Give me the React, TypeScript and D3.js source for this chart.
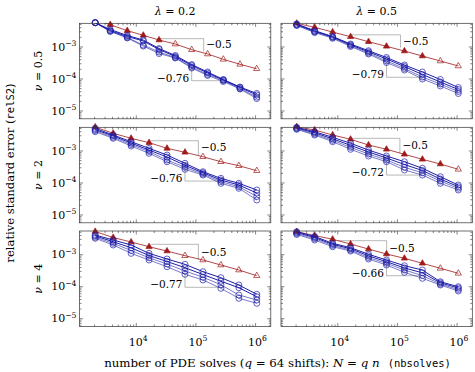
import React from "react";
import * as d3 from "d3";

// N = q n solves, q = 64 shifts
const nbsolves = [2048, 4096, 8192, 16384, 32768, 65536, 131072, 262144, 524288, 1048576];
const nbsolvesTopLeft = [2050, 3660, 7060, 13100, 24100, 45100, 84900, 157000, 288000, 548000, 1044000];

const lambdaLabels = ["0.2", "0.5"];
const nuLabels = ["0.5", "2", "4"];
const refLabel = "−0.5";
const fitLabels = ["−0.76", "−0.79", "−0.76", "−0.72", "−0.77", "−0.66"];
const xTicks = [1e4, 1e5, 1e6];
const yTicks = [1e-5, 1e-4, 1e-3];
const xDomain = [1117, 1.8e6];
const yDomain = [5.7e-6, 5.5e-3];

// nu = 0.5, lambda = 0.2
const red11 = [7.12e-3, 4.97e-3, 3.23e-3, 2.32e-3, 1.65e-3, 1.24e-3, 8.22e-4, 6.04e-4, 4.12e-4, 2.88e-4, 2.09e-4];
const blue11 = [
  [5.74e-3, 3.52e-3, 2.29e-3, 1.65e-3, 8.96e-4, 5.42e-4, 2.83e-4, 1.65e-4, 9.64e-5, 5.61e-5, 3.52e-5],
  [5.74e-3, 3.27e-3, 2.13e-3, 1.54e-3, 8.34e-4, 5.04e-4, 2.64e-4, 1.54e-4, 9.29e-5, 5.42e-5, 3.16e-5],
  [5.74e-3, 3.16e-3, 1.98e-3, 1.15e-3, 6.97e-4, 4.69e-4, 2.37e-4, 1.38e-4, 8.96e-5, 5.04e-5, 2.73e-5],
  [5.74e-3, 3.05e-3, 1.91e-3, 1.07e-3, 6.25e-4, 4.53e-4, 2.2e-4, 1.29e-4, 8.34e-5, 4.86e-5, 2.45e-5],
];
// nu = 0.5, lambda = 0.5
const red12 = [5.5e-3, 4.12e-3, 2.94e-3, 2.09e-3, 1.46e-3, 1.05e-3, 7.48e-4, 5.22e-4, 3.65e-4, 2.55e-4];
const blue12 = [
  [5.23e-3, 3.23e-3, 2.13e-3, 1.24e-3, 7.66e-4, 4.69e-4, 2.73e-4, 1.65e-4, 9.64e-5, 5.42e-5],
  [5.04e-3, 3.09e-3, 2.05e-3, 1.17e-3, 7.06e-4, 4.21e-4, 2.45e-4, 1.38e-4, 8.05e-5, 4.69e-5],
  [4.86e-3, 2.98e-3, 1.98e-3, 1.11e-3, 6.48e-4, 3.65e-4, 2.13e-4, 1.15e-4, 6.97e-5, 4.06e-5],
  [4.69e-3, 2.83e-3, 1.87e-3, 1.04e-3, 6.04e-4, 3.27e-4, 1.91e-4, 9.98e-5, 6.04e-5, 3.52e-5],
];
// nu = 2, lambda = 0.2
const red21 = [5.6e-3, 3.57e-3, 2.49e-3, 1.82e-3, 1.21e-3, 9.1e-4, 6.62e-4, 4.62e-4, 3.47e-4, 2.42e-4];
const blue21 = [
  [5.11e-3, 3.16e-3, 1.95e-3, 1.21e-3, 7.48e-4, 4.12e-4, 2.25e-4, 1.4e-4, 9.77e-5, 6.04e-5],
  [4.69e-3, 2.94e-3, 1.77e-3, 1.07e-3, 6.48e-4, 3.57e-4, 2.08e-4, 1.24e-4, 8.65e-5, 4.86e-5],
  [4.37e-3, 2.68e-3, 1.59e-3, 9.64e-4, 5.22e-4, 3.09e-4, 1.91e-4, 1.1e-4, 7.66e-5, 3.78e-5],
  [4.0e-3, 2.49e-3, 1.43e-3, 8.46e-4, 4.62e-4, 2.68e-4, 1.77e-4, 9.77e-5, 6.83e-5, 2.94e-5],
];
// nu = 2, lambda = 0.5
const red22 = [5.7e-3, 4.53e-3, 3.16e-3, 2.32e-3, 1.54e-3, 1.13e-3, 7.87e-4, 5.5e-4, 3.92e-4, 2.68e-4];
const blue22 = [
  [5.5e-3, 4.0e-3, 2.68e-3, 1.74e-3, 1.07e-3, 6.97e-4, 4.62e-4, 2.88e-4, 1.57e-4, 8.65e-5],
  [5.23e-3, 3.7e-3, 2.4e-3, 1.5e-3, 9.29e-4, 6.04e-4, 3.78e-4, 2.45e-4, 1.33e-4, 7.66e-5],
  [4.97e-3, 3.4e-3, 2.16e-3, 1.3e-3, 8.05e-4, 5.22e-4, 3.09e-4, 2.08e-4, 1.15e-4, 6.83e-5],
  [4.76e-3, 3.16e-3, 1.95e-3, 1.13e-3, 6.97e-4, 4.62e-4, 2.55e-4, 1.77e-4, 9.77e-5, 6.04e-5],
];
// nu = 4, lambda = 0.2
const red31 = [5.3e-3, 3.44e-3, 2.49e-3, 1.77e-3, 1.3e-3, 9.29e-4, 6.83e-4, 4.76e-4, 3.32e-4, 2.2e-4];
const blue31 = [
  [4.12e-3, 2.88e-3, 2.01e-3, 1.1e-3, 7.33e-4, 5.0e-4, 2.94e-4, 1.91e-4, 1.13e-4, 5.78e-5],
  [3.84e-3, 2.55e-3, 1.64e-3, 9.42e-4, 6.12e-4, 3.92e-4, 2.4e-4, 1.48e-4, 9.29e-5, 4.86e-5],
  [3.52e-3, 2.27e-3, 1.35e-3, 7.99e-4, 5.12e-4, 3.09e-4, 1.98e-4, 1.15e-4, 5.5e-5, 3.84e-5],
  [3.25e-3, 2.01e-3, 1.1e-3, 6.83e-4, 4.21e-4, 2.44e-4, 1.62e-4, 8.89e-5, 4.34e-5, 3.03e-5],
];
// nu = 4, lambda = 0.5
const red32 = [5.23e-3, 3.97e-3, 3.03e-3, 2.16e-3, 1.5e-3, 1.05e-3, 7.71e-4, 5.38e-4, 3.75e-4, 2.62e-4];
const blue32 = [
  [5.23e-3, 3.7e-3, 2.27e-3, 1.65e-3, 1.03e-3, 6.83e-4, 4.53e-4, 3.32e-4, 1.43e-4, 9.98e-5],
  [4.93e-3, 3.44e-3, 2.11e-3, 1.53e-3, 9.23e-4, 6.04e-4, 3.84e-4, 2.72e-4, 1.32e-4, 9.1e-5],
  [4.59e-3, 3.16e-3, 1.94e-3, 1.4e-3, 8.16e-4, 5.38e-4, 3.32e-4, 2.23e-4, 1.21e-4, 8.17e-5],
  [4.28e-3, 2.88e-3, 1.77e-3, 1.3e-3, 7.33e-4, 4.76e-4, 2.81e-4, 1.83e-4, 1.13e-4, 7.33e-5],
];

// how many of the red triangles are filled
const redFilled = [5, 8, 6, 9, 5, 8];

// slope triangles: [x1, x2], [yTop, yBottom]
const refTriX = [[22200, 135000], [17100, 112500], [17700, 110000], [17100, 110000], [17700, 110000], [10100, 66100]];
const refTriY = [[1.82e-3, 7.33e-4], [2.4e-3, 9.64e-4], [2.09e-3, 7.48e-4], [2.49e-3, 8.46e-4], [2.11e-3, 6.83e-4], [2.74e-3, 9.29e-4]];
const fitTriX = [[84900, 300000], [65536, 255000], [65536, 300000], [65536, 255000], [65536, 300000], [65536, 239000]];
const fitTriY = [[2.73e-4, 8.83e-5], [3.27e-4, 1.13e-4], [3.65e-4, 1.15e-4], [5.22e-4, 1.77e-4], [3.84e-4, 9.57e-5], [5.9e-4, 2.2e-4]];

const RED = "#a01a1a";
const BLUE = "#1e1ea8";
const GRAY = "#9a9a9a";
const serif = "DejaVu Serif, serif";
const mono = "DejaVu Sans Mono, monospace";

const colX = [79.5, 281];
const rowY = [23.3, 127.3, 231];
const PW = 191.3;
const PH = 95.5;

const panels = [
  { xs: nbsolvesTopLeft, red: red11, blue: blue11 },
  { xs: nbsolves, red: red12, blue: blue12 },
  { xs: nbsolves, red: red21, blue: blue21 },
  { xs: nbsolves, red: red22, blue: blue22 },
  { xs: nbsolves, red: red31, blue: blue31 },
  { xs: nbsolves, red: red32, blue: blue32 },
];

function Pow10({ x, y, exp, anchor }) {
  return (
    <text x={x} y={y} textAnchor={anchor} style={{ fontFamily: serif }} fontSize={11} fill="#000">
      10
      <tspan fontSize={7.7} dy={-4.8}>
        {exp}
      </tspan>
    </text>
  );
}

function Panel({ idx }) {
  const row = Math.floor(idx / 2);
  const col = idx % 2;
  const x0 = colX[col];
  const y0 = rowY[row];
  const p = panels[idx];
  const xScale = d3.scaleLog().domain(xDomain).range([x0, x0 + PW]);
  const yScale = d3.scaleLog().domain(yDomain).range([y0 + PH, y0]);
  const line = d3
    .line<number>()
    .x((_, i) => xScale(p.xs[i]))
    .y((d) => yScale(d));
  // markers slightly past the top edge are still drawn (pgfplots style)
  const inside = (v: number) => v <= yDomain[1] * 1.1 && v >= yDomain[0];
  const clipId = `clip${idx}`;

  const xt = xScale.ticks();
  const yt = yScale.ticks();
  const isMajor = (v: number) => Math.abs(Math.log10(v) - Math.round(Math.log10(v))) < 1e-6;

  const [rx1, rx2] = refTriX[idx];
  const [ry1, ry2] = refTriY[idx];
  const [fx1, fx2] = fitTriX[idx];
  const [fy1, fy2] = fitTriY[idx];

  const tri = (cx: number, cy: number) =>
    `M${cx},${cy - 3.6}L${cx + 3.1},${cy + 1.8}L${cx - 3.1},${cy + 1.8}Z`;

  return (
    <g>
      <defs>
        <clipPath id={clipId}>
          <rect x={x0} y={y0} width={PW} height={PH} />
        </clipPath>
      </defs>

      {/* ticks, on all four sides */}
      <g stroke="#333" strokeWidth={0.6}>
        {xt.map((v, i) => {
          const len = isMajor(v) ? 3.5 : 2;
          const x = xScale(v);
          return (
            <React.Fragment key={`xt${i}`}>
              <line x1={x} x2={x} y1={y0 + PH} y2={y0 + PH - len} />
              <line x1={x} x2={x} y1={y0} y2={y0 + len} />
            </React.Fragment>
          );
        })}
        {yt.map((v, i) => {
          const len = isMajor(v) ? 3.5 : 2;
          const y = yScale(v);
          return (
            <React.Fragment key={`yt${i}`}>
              <line x1={x0} x2={x0 + len} y1={y} y2={y} />
              <line x1={x0 + PW} x2={x0 + PW - len} y1={y} y2={y} />
            </React.Fragment>
          );
        })}
      </g>

      {/* slope triangles */}
      <g fill="none" stroke={GRAY} strokeWidth={0.7}>
        <path d={`M${xScale(rx1)},${yScale(ry1)}H${xScale(rx2)}V${yScale(ry2)}`} />
        <path d={`M${xScale(fx1)},${yScale(fy1)}V${yScale(fy2)}H${xScale(fx2)}`} />
      </g>
      <text
        x={xScale(rx2) + 2.5}
        y={(yScale(ry1) + yScale(ry2)) / 2 + 3.5}
        style={{ fontFamily: serif }}
        fontSize={10.5}
      >
        {refLabel}
      </text>
      <text
        x={xScale(fx1) - 2.5}
        y={yScale(fy2) + 1}
        textAnchor="end"
        style={{ fontFamily: serif }}
        fontSize={10.5}
      >
        {fitLabels[idx]}
      </text>

      {/* red: reference method */}
      <path d={line(p.red) ?? ""} fill="none" stroke={RED} strokeWidth={0.8} clipPath={`url(#${clipId})`} />
      {p.red.map((v, i) =>
        inside(v) ? (
          <path
            key={`r${i}`}
            d={tri(xScale(p.xs[i]), yScale(v))}
            fill={i < redFilled[idx] ? RED : "none"}
            stroke={RED}
            strokeWidth={0.7}
          />
        ) : null
      )}

      {/* blue: the others */}
      {p.blue.map((s, k) => (
        <g key={`b${k}`}>
          <path d={line(s) ?? ""} fill="none" stroke={BLUE} strokeWidth={k < 2 ? 1 : 0.6} clipPath={`url(#${clipId})`} />
          {s.map((v, i) =>
            inside(v) ? (
              <circle key={i} cx={xScale(p.xs[i])} cy={yScale(v)} r={3} fill="none" stroke={BLUE} strokeWidth={0.7} />
            ) : null
          )}
        </g>
      ))}

      <rect x={x0} y={y0} width={PW} height={PH} fill="none" stroke="#333" strokeWidth={0.7} />

      {col === 0 &&
        yTicks.map((v, i) => (
          <Pow10 key={`yl${i}`} x={x0 - 3} y={yScale(v) + 3.8} exp={`−${-Math.log10(v)}`} anchor="end" />
        ))}
      {row === 2 &&
        xTicks.map((v, i) => (
          <Pow10 key={`xl${i}`} x={xScale(v) + 2} y={y0 + PH + 19} exp={`${Math.log10(v)}`} anchor="middle" />
        ))}
    </g>
  );
}

export default function App() {
  return (
    <svg
      width={475}
      height={372}
      style={{ position: "absolute", left: 0, top: 0, background: "#fff", fontFamily: serif }}
    >
      <rect width={475} height={372} fill="#fff" />
      {panels.map((_, i) => (
        <Panel key={i} idx={i} />
      ))}

      {lambdaLabels.map((l, i) => (
        <text key={l} x={colX[i] + PW / 2} y={15} textAnchor="middle" style={{ fontFamily: serif }} fontSize={11}>
          <tspan fontStyle="italic">λ</tspan> = {l}
        </text>
      ))}
      {nuLabels.map((l, i) => {
        const cy = rowY[i] + PH / 2;
        return (
          <text
            key={l}
            transform={`translate(42, ${cy}) rotate(-90)`}
            textAnchor="middle"
            style={{ fontFamily: serif }}
            fontSize={11}
          >
            <tspan fontStyle="italic">ν</tspan> = {l}
          </text>
        );
      })}
      <text
        transform={`translate(14, 173) rotate(-90)`}
        textAnchor="middle"
        style={{ fontFamily: serif }}
        fontSize={11.6}
      >
        relative standard error (<tspan style={{ fontFamily: mono }} fontSize={10.5}>relS2</tspan>)
      </text>
      <text x={277.5} y={367} textAnchor="middle" style={{ fontFamily: serif }} fontSize={11.8}>
        number of PDE solves (<tspan fontStyle="italic">q</tspan> = 64 shifts):{" "}
        <tspan fontStyle="italic">N</tspan> = <tspan fontStyle="italic">q n</tspan>
        <tspan style={{ fontFamily: mono }} fontSize={10.5} dx={8}>
          (nbsolves)
        </tspan>
      </text>
    </svg>
  );
}
